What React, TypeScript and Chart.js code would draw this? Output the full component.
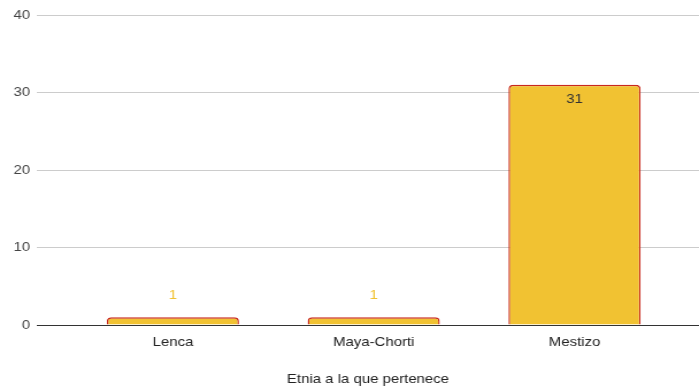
import React, { useEffect, useRef } from "react";
import { Chart, registerables } from "chart.js";

Chart.register(...registerables);

const categories = ["Lenca", "Maya-Chorti", "Mestizo"];
const values = [1, 1, 31];
const yTicks = [0, 10, 20, 30, 40];
const axisTitle = "Etnia a la que pertenece";

const FONT = "Arial, 'Liberation Sans', sans-serif";
const STRETCH = 1.15;
const OUT_W = 699;
const OUT_H = 392;
const IN_W = Math.round(OUT_W / STRETCH);

const labelPlugin = {
  id: "barLabels",
  afterDatasetsDraw(chart: any) {
    const ctx = chart.ctx;
    const meta = chart.getDatasetMeta(0);
    ctx.save();
    ctx.font = `13px ${FONT}`;
    ctx.textAlign = "center";
    ctx.textBaseline = "middle";
    meta.data.forEach((bar: any, i: number) => {
      const v = values[i];
      const h = bar.base - bar.y;
      if (h > 30) {
        ctx.fillStyle = "#333333";
        ctx.fillText(String(v), bar.x, bar.y + 14.5);
      } else {
        ctx.fillStyle = "#f1c232";
        ctx.fillText(String(v), bar.x, bar.y - 21.5);
      }
    });
    ctx.restore();
  },
};

export default function App() {
  const ref = useRef<HTMLCanvasElement>(null);
  useEffect(() => {
    if (!ref.current) return;
    const chart = new Chart(ref.current, {
      type: "bar",
      data: {
        datasets: [
          {
            data: values.map((v, i) => ({ x: i, y: v })),
            backgroundColor: "#f1c232",
            borderColor: "#c8281e",
            borderWidth: 1.4,
            borderRadius: { topLeft: 4, topRight: 4, bottomLeft: 0, bottomRight: 0 },
            borderSkipped: "bottom",
            barPercentage: 0.658,
            categoryPercentage: 1,
          },
        ],
      },
      options: {
        animation: false,
        responsive: false,
        devicePixelRatio: 1,
        layout: { padding: { top: 15, left: 0, right: 0, bottom: 0 } },
        plugins: { legend: { display: false }, tooltip: { enabled: false } },
        scales: {
          x: {
            type: "linear",
            min: -0.677,
            max: 2.62,
            offset: false,
            afterBuildTicks: (scale: any) => {
              scale.ticks = categories.map((_, i) => ({ value: i }));
            },
            afterFit: (scale: any) => {
              scale.height = 67;
            },
            grid: { display: false, drawTicks: false },
            border: { display: false },
            ticks: {
              padding: 10,
              color: "#222222",
              font: { family: FONT, size: 13 },
              maxRotation: 0,
              autoSkip: false,
              callback: (v: any) => categories[v] ?? "",
            },
            title: {
              display: true,
              text: axisTitle,
              color: "#222222",
              font: { family: FONT, size: 13 },
              padding: { top: 0, bottom: 5 },
            },
          },
          y: {
            min: 0,
            max: 40,
            afterBuildTicks: (scale: any) => {
              scale.ticks = yTicks.map((v) => ({ value: v }));
            },
            afterFit: (scale: any) => {
              scale.width = 37 / STRETCH;
            },
            grid: {
              drawTicks: false,
              color: (c: any) => (c.tick && c.tick.value === 0 ? "#333333" : "#cccccc"),
              lineWidth: 1,
            },
            border: { display: false },
            ticks: {
              padding: 6,
              color: "#444444",
              font: { family: FONT, size: 13 },
            },
          },
        },
      },
      plugins: [labelPlugin],
    } as any);
    return () => chart.destroy();
  }, []);
  return (
    <div style={{ position: "fixed", left: 0, top: 0, width: OUT_W, height: OUT_H, background: "#fff" }}>
      <canvas
        ref={ref}
        width={IN_W}
        height={OUT_H}
        style={{ display: "block", width: OUT_W + "px", height: OUT_H + "px" }}
      />
    </div>
  );
}
